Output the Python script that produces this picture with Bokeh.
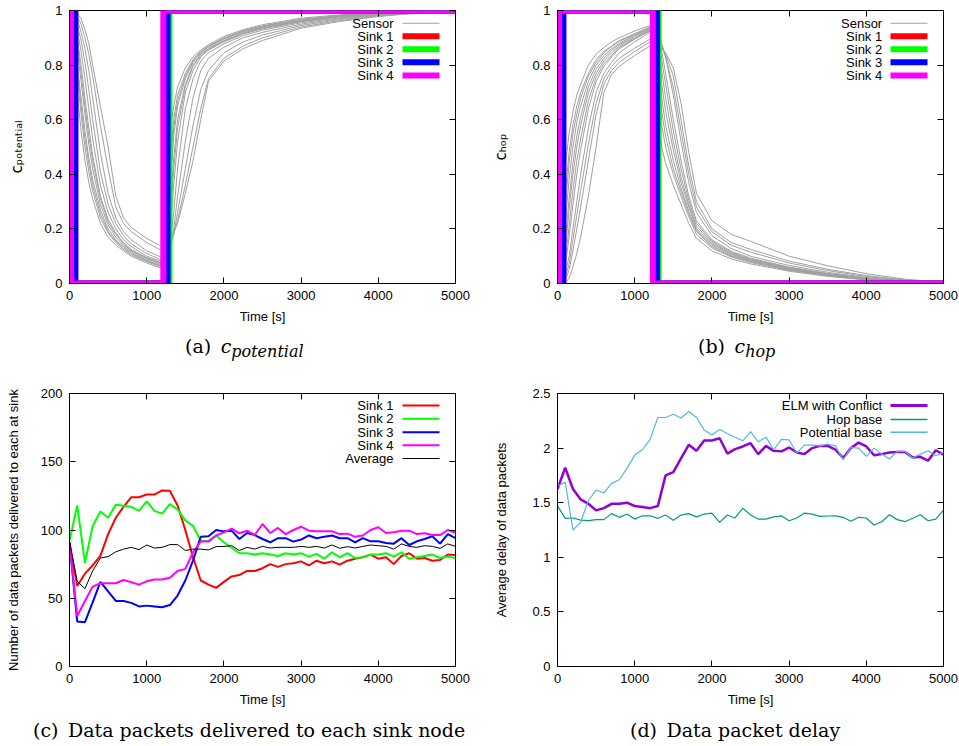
from bokeh.plotting import figure
from bokeh.models import (Range1d, FixedTicker, LinearAxis, Label, BoxAnnotation, Div,
                          CustomJSTickFormatter)
from bokeh.layouts import column, row
from bokeh.embed import file_html
from bokeh.resources import INLINE

SANS = "Liberation Sans"

# ---------------- data ----------------
x_ticks = [0, 1000, 2000, 3000, 4000, 5000]
c_ticks = [0, 0.2, 0.4, 0.6, 0.8, 1]
pkt_ticks = [0, 50, 100, 150, 200]
delay_ticks = [0, 0.5, 1, 1.5, 2, 2.5]

# sampling times of the sensor curves (s)
t_sensor = [0, 50, 100, 150, 200, 250, 300, 400, 500, 600, 700, 800, 1000, 1200,
            1250, 1300, 1350, 1400, 1500, 1600, 1700, 1800, 2000, 2250, 2500, 3000, 3500, 4000, 4500, 5000]

# (a) c_potential of individual sensors
pot_sensor_1 = [1, .86, .70, .56, .45, .37, .31, .22, .17, .14, .12, .10, .075, .055,
                .10, .55, .65, .72, .79, .83, .855, .875, .905, .93, .948, .972, .984, .992, .997, 1]
pot_sensor_2 = [1, .90, .76, .62, .50, .41, .34, .24, .185, .15, .125, .105, .08, .06,
                .08, .45, .60, .69, .77, .82, .85, .87, .90, .926, .944, .968, .982, .991, .996, 1]
pot_sensor_3 = [1, .93, .81, .68, .56, .46, .38, .27, .20, .16, .135, .115, .085, .065,
                .08, .35, .54, .65, .75, .81, .845, .865, .895, .922, .94, .965, .98, .99, .996, 1]
pot_sensor_4 = [1, .95, .86, .74, .62, .51, .42, .29, .215, .17, .14, .12, .09, .07,
                .08, .25, .46, .60, .73, .80, .84, .86, .89, .918, .937, .962, .978, .989, .995, 1]
pot_sensor_5 = [1, .97, .90, .80, .68, .57, .47, .32, .235, .185, .15, .125, .095, .075,
                .09, .18, .36, .52, .70, .78, .83, .855, .885, .914, .933, .959, .976, .988, .995, 1]
pot_sensor_6 = [1, .98, .93, .85, .75, .64, .53, .36, .26, .20, .16, .135, .10, .08,
                .09, .14, .26, .42, .64, .75, .815, .845, .878, .908, .928, .955, .973, .986, .994, 1]
pot_sensor_7 = [1, .99, .95, .89, .81, .71, .60, .41, .29, .22, .175, .145, .11, .085,
                .10, .13, .20, .32, .52, .68, .78, .825, .865, .90, .92, .95, .97, .984, .993, 1]
pot_sensor_8 = [1, 1, .97, .92, .86, .78, .68, .48, .33, .24, .19, .16, .12, .095,
                .11, .13, .18, .26, .42, .58, .71, .78, .845, .885, .91, .945, .967, .982, .992, 1]
pot_sensor_9 = [1, 1, .98, .95, .90, .84, .76, .58, .42, .28, .22, .19, .15, .12,
                .13, .14, .18, .23, .36, .50, .64, .75, .825, .87, .90, .94, .963, .98, .991, 1]
pot_sensor_10 = [1, 1, .99, .97, .93, .88, .80, .65, .50, .32, .24, .205, .165, .135,
                 .14, .15, .19, .22, .33, .45, .60, .74, .815, .86, .89, .935, .96, .978, .99, 1]
pot_sensor_11 = [1, .96, .88, .77, .65, .54, .45, .31, .225, .18, .145, .12, .092, .072,
                 .08, .22, .42, .57, .72, .795, .835, .858, .888, .916, .935, .96, .977, .988, .995, 1]
pot_sensor_12 = [1, .92, .79, .65, .53, .44, .36, .255, .19, .155, .13, .11, .083, .063,
                 .07, .40, .57, .67, .76, .815, .848, .868, .898, .924, .942, .966, .981, .99, .996, 1]

# (b) c_hop of individual sensors
hop_sensor_1 = [0, 0, .43, .55, .63, .69, .73, .80, .84, .865, .885, .90, .925, .945,
                .945, .60, .50, .44, .36, .29, .22, .165, .12, .09, .072, .045, .026, .013, .005, 0]
hop_sensor_2 = [0, 0, .33, .48, .58, .65, .70, .77, .82, .85, .87, .89, .915, .94,
                .94, .72, .58, .50, .40, .32, .245, .18, .13, .097, .077, .048, .028, .014, .006, .001]
hop_sensor_3 = [0, 0, .22, .38, .50, .59, .65, .74, .80, .835, .86, .88, .91, .935,
                .935, .82, .68, .58, .45, .35, .265, .195, .14, .103, .082, .052, .031, .016, .007, .001]
hop_sensor_4 = [0, 0, .12, .27, .40, .50, .58, .70, .77, .815, .845, .87, .90, .93,
                .93, .88, .78, .68, .52, .39, .29, .21, .15, .11, .087, .056, .034, .018, .008, .001]
hop_sensor_5 = [0, 0, .06, .17, .29, .40, .49, .64, .74, .795, .83, .86, .895, .925,
                .925, .91, .85, .77, .60, .45, .32, .23, .16, .118, .093, .06, .037, .02, .009, .002]
hop_sensor_6 = [0, 0, .03, .10, .20, .30, .40, .57, .70, .77, .81, .845, .885, .92,
                .92, .915, .88, .83, .69, .52, .37, .26, .175, .128, .10, .066, .041, .022, .01, .002]
hop_sensor_7 = [0, 0, .01, .05, .12, .20, .28, .45, .62, .73, .78, .81, .85, .885,
                .885, .885, .87, .84, .76, .60, .43, .30, .20, .15, .125, .082, .052, .029, .013, .003]
hop_sensor_8 = [0, 0, 0, .02, .06, .11, .17, .32, .50, .70, .765, .795, .835, .87,
                .87, .87, .86, .845, .79, .66, .48, .33, .23, .18, .155, .10, .065, .036, .016, .004]
hop_sensor_9 = [0, 0, .08, .21, .34, .45, .53, .67, .755, .805, .835, .865, .897, .927,
                .927, .90, .82, .73, .56, .42, .305, .22, .155, .114, .09, .058, .035, .019, .008, .001]
hop_sensor_10 = [0, 0, .28, .44, .55, .62, .68, .76, .81, .845, .868, .887, .912, .938,
                 .938, .78, .63, .54, .42, .335, .255, .19, .135, .10, .08, .05, .03, .015, .006, .001]
hop_sensor_11 = [0, 0, .02, .07, .16, .25, .34, .51, .66, .75, .795, .825, .862, .895,
                 .895, .89, .87, .83, .72, .56, .40, .28, .19, .14, .115, .075, .047, .026, .012, .003]
hop_sensor_12 = [0, 0, .15, .31, .44, .54, .61, .72, .785, .825, .853, .875, .905, .932,
                 .932, .86, .73, .63, .49, .37, .28, .20, .145, .107, .085, .054, .032, .017, .007, .001]

# sink step functions (switch times, values held after each time)
pot_sink1_t = [0, 75, 1270, 5000];  pot_sink1_v = [1, 0, 1, 1]
pot_sink2_t = [0, 0, 1295, 5000];   pot_sink2_v = [1, 0, 1, 1]
pot_sink3_t = [0, 75, 1270, 5000];  pot_sink3_v = [1, 0, 1, 1]
pot_sink4_t = [0, 20, 1215, 5000];  pot_sink4_v = [1, 0, 1, 1]

hop_sink1_t = [0, 75, 1290, 5000];  hop_sink1_v = [0, 1, 0, 0]
hop_sink2_t = [0, 0, 1310, 5000];   hop_sink2_v = [0, 1, 0, 0]
hop_sink3_t = [0, 75, 1290, 5000];  hop_sink3_v = [0, 1, 0, 0]
hop_sink4_t = [0, 20, 1235, 5000];  hop_sink4_v = [0, 1, 0, 0]

# (c) packets delivered, every 100 s
t_100 = list(range(0, 5001, 100))
pkt_sink1 = [91, 59, 68, 74, 81, 97, 109, 117, 124, 124, 126, 126, 129, 128.7, 118, 100, 80, 63, 60, 57.6,
             62, 66, 67, 70, 70, 72, 75, 73, 75, 75.6, 77, 74, 77.5, 75.6, 77, 74.6, 77.5, 79, 80, 82,
             79, 80, 75, 81, 83, 79, 79.5, 77.5, 78, 82, 81.7]
pkt_sink2 = [92, 118, 76, 103, 113.5, 109, 118.5, 117.8, 117, 114, 121, 114, 112, 119, 115, 107, 103, 92, 92, 96,
             91, 87, 83, 83, 82, 83, 82, 81, 83, 82, 83, 80.5, 82.5, 79, 83.7, 80, 83, 79.5, 80, 82,
             82, 83, 80.5, 83.7, 79, 80, 81, 82, 79.5, 80.5, 79.5]
pkt_sink3 = [91, 33, 32.5, 47, 62, 55, 48, 48, 46.6, 44, 44.6, 44, 43.4, 45, 52, 63, 77.6, 95, 95.4, 100,
             99, 99.5, 93.4, 97.8, 96.3, 93.4, 91, 94, 94, 91.5, 93, 96, 94, 95, 96, 94, 94, 91, 94, 91.7,
             91.7, 90.5, 90, 94, 89, 91.7, 93.4, 95.4, 90, 97, 94]
pkt_sink4 = [91, 37, 48, 58.5, 61, 61, 61, 63.4, 61.7, 60, 62.4, 63.7, 63.7, 65, 70, 71.5, 83.7, 91.5, 91.5, 96,
             98.3, 101, 97.6, 99.5, 96.3, 104.4, 97.8, 101.5, 97, 100, 102.4, 99.5, 99, 99, 99, 97, 97.3, 95, 96, 100,
             102, 97.8, 98.3, 99.5, 99.5, 97, 97.6, 96.3, 96.3, 100, 98]
pkt_average = [91, 62.4, 57, 70, 79.5, 80.5, 84, 86, 87.3, 85.6, 89, 86.8, 87.3, 89.3, 89.3, 85, 86, 86, 85.4, 87.8,
               88, 88.5, 85, 87.3, 86, 88, 86.8, 87.3, 87.3, 87.3, 88, 87.3, 88, 86.8, 89, 86.6, 87.8, 86.8, 88, 89,
               88.5, 88, 86, 89.8, 88, 87.3, 88.5, 88, 86.6, 89.8, 88]

# (d) average delay, every 100 s
delay_elm = [1.625, 1.82, 1.625, 1.53, 1.49, 1.43, 1.45, 1.49, 1.49, 1.50, 1.47, 1.46, 1.45, 1.47, 1.75, 1.78,
             1.905, 2.03, 1.975, 2.07, 2.07, 2.09, 1.95, 1.99, 2.015, 2.045, 1.945, 2.02, 1.975, 1.97, 2.005,
             1.96, 1.945, 2.0, 2.02, 2.02, 1.985, 1.91, 2.0, 2.05, 2.015, 1.935, 1.945, 1.96, 1.965, 1.965,
             1.915, 1.92, 1.885, 1.98, 1.94]
delay_hop = [1.47, 1.357, 1.36, 1.34, 1.335, 1.345, 1.345, 1.40, 1.366, 1.396, 1.35, 1.38, 1.38, 1.357, 1.387,
             1.34, 1.387, 1.40, 1.37, 1.396, 1.405, 1.32, 1.387, 1.36, 1.45, 1.387, 1.35, 1.35, 1.37, 1.38,
             1.335, 1.36, 1.405, 1.396, 1.375, 1.378, 1.38, 1.366, 1.33, 1.366, 1.36, 1.296, 1.326, 1.39,
             1.345, 1.326, 1.357, 1.39, 1.335, 1.35, 1.433]
delay_potential = [1.655, 1.686, 1.25, 1.32, 1.52, 1.616, 1.59, 1.677, 1.71, 1.814, 1.936, 1.985, 2.08, 2.28,
                   2.28, 2.31, 2.275, 2.335, 2.28, 2.165, 2.12, 2.17, 2.134, 2.10, 2.067, 2.15, 2.058, 2.10,
                   1.985, 2.08, 2.076, 1.954, 2.027, 2.027, 2.02, 2.037, 2.02, 1.893, 2.006, 2.0, 1.924, 2.0,
                   1.945, 1.90, 1.97, 1.97, 1.91, 1.945, 1.976, 1.93, 1.96]

SINK_COLORS = ["#ff0000", "#00ff00", "#0000ff", "#ff00ff"]
SENSOR_COLOR = "#a0a0a0"
ELM_COLOR, HOP_COLOR, POT_COLOR = "#9400d3", "#009e73", "#56b4e9"


# ---------------- helpers ----------------
def make_fig(width, height, bl, br, bt, bb, y_end, yticks, ylabel, ylabel_font=SANS, ylab_standoff=16,
             ylabel_size="13px"):
    p = figure(width=width, height=height, output_backend="svg", toolbar_location=None,
               x_range=Range1d(0, 5000), y_range=Range1d(0, y_end),
               min_border_left=bl, min_border_right=br, min_border_top=bt, min_border_bottom=bb,
               background_fill_color="white", border_fill_color="white")
    p.grid.visible = False
    p.outline_line_color = "black"
    p.outline_line_width = 1
    fmt = CustomJSTickFormatter(code="return tick.toString();")
    xt = FixedTicker(ticks=x_ticks)
    yt = FixedTicker(ticks=yticks)
    p.xaxis.ticker = xt
    p.yaxis.ticker = yt
    for ax in (p.xaxis[0], p.yaxis[0]):
        ax.formatter = fmt
        ax.major_tick_in = 6
        ax.major_tick_out = 0
        ax.minor_tick_in = 0
        ax.minor_tick_out = 0
        ax.axis_line_color = "black"
        ax.major_tick_line_color = "black"
        ax.major_label_text_font = SANS
        ax.major_label_text_font_size = "13px"
        ax.major_label_text_color = "black"
        ax.axis_label_text_font = SANS
        ax.axis_label_text_font_size = "13px"
        ax.axis_label_text_font_style = "normal"
        ax.axis_label_text_color = "black"
    p.xaxis.axis_label = "Time [s]"
    p.xaxis.major_label_standoff = 7
    p.xaxis.axis_label_standoff = 6
    p.yaxis.axis_label = ylabel
    p.yaxis.axis_label_text_font = ylabel_font
    p.yaxis.axis_label_text_font_size = ylabel_size
    p.yaxis.major_label_standoff = 7
    p.yaxis.axis_label_standoff = ylab_standoff
    blank = CustomJSTickFormatter(code="return '';")
    top = LinearAxis(ticker=xt, formatter=blank, major_label_text_font_size="0px",
                     axis_line_color=None, major_tick_in=6, major_tick_out=0,
                     minor_tick_in=0, minor_tick_out=0, major_label_standoff=0,
                     major_tick_line_color="black")
    right = LinearAxis(ticker=yt, formatter=blank, major_label_text_font_size="0px",
                       axis_line_color=None, major_tick_in=6, major_tick_out=0,
                       minor_tick_in=0, minor_tick_out=0, major_label_standoff=0,
                       major_tick_line_color="black")
    p.add_layout(top, "above")
    p.add_layout(right, "right")
    return p


def add_legend(p, frame_h, entries, text_right, sw_left, sw_right, rows_from_top):
    for (label, color, lw), r in zip(entries, rows_from_top):
        yc = frame_h - r
        p.add_layout(Label(x=text_right, y=yc, x_units="screen", y_units="screen", text=label,
                           text_align="right", text_baseline="middle", text_font=SANS,
                           text_font_size="13px", text_color="black"))
        p.add_layout(BoxAnnotation(left=sw_left, right=sw_right, bottom=yc - lw / 2, top=yc + lw / 2,
                                   left_units="screen", right_units="screen",
                                   bottom_units="screen", top_units="screen",
                                   fill_color=color, fill_alpha=1.0, line_color=None))


def caption(html, width, height, pad_left, margin_top):
    style = ("font-family:'DejaVu Serif',serif;font-size:19px;line-height:20px;color:black;"
             f"margin-top:{margin_top}px;padding-left:{pad_left}px;white-space:nowrap;")
    return Div(text=f'<div style="{style}">{html}</div>', width=width, height=height, margin=0)


# geometry
LW, RW = 480, 479
TOP_H, BOT_H = 334, 340
TOP_FH, BOT_FH = 273, 273

# ---------------- (a) c_potential ----------------
pa = make_fig(LW, TOP_H, 69, 25, 10, 51, 1, c_ticks, "c\u209a\u2092\u209c\u2091\u2099\u209c\u1d62\u2090\u2097",
              ylabel_font="DejaVu Sans", ylab_standoff=15, ylabel_size="15px")
for s in [pot_sensor_1, pot_sensor_2, pot_sensor_3, pot_sensor_4, pot_sensor_5, pot_sensor_6,
          pot_sensor_7, pot_sensor_8, pot_sensor_9, pot_sensor_10, pot_sensor_11, pot_sensor_12]:
    pa.line(t_sensor, s, line_color=SENSOR_COLOR, line_width=1)
for (tt, vv), col in zip([(pot_sink1_t, pot_sink1_v), (pot_sink2_t, pot_sink2_v),
                          (pot_sink3_t, pot_sink3_v), (pot_sink4_t, pot_sink4_v)], SINK_COLORS):
    pa.step(tt, vv, mode="after", line_color=col, line_width=6, line_join="miter")
add_legend(pa, TOP_FH,
           [("Sensor", SENSOR_COLOR, 1), ("Sink 1", SINK_COLORS[0], 6), ("Sink 2", SINK_COLORS[1], 6),
            ("Sink 3", SINK_COLORS[2], 6), ("Sink 4", SINK_COLORS[3], 6)],
           324, 333, 370, [12.7, 25.7, 38.7, 51.7, 65])

# ---------------- (b) c_hop ----------------
pb = make_fig(RW, TOP_H, 77, 16, 10, 51, 1, c_ticks, "c\u2095\u2092\u209a", ylabel_font="DejaVu Sans",
              ylab_standoff=19, ylabel_size="15px")
for s in [hop_sensor_1, hop_sensor_2, hop_sensor_3, hop_sensor_4, hop_sensor_5, hop_sensor_6,
          hop_sensor_7, hop_sensor_8, hop_sensor_9, hop_sensor_10, hop_sensor_11, hop_sensor_12]:
    pb.line(t_sensor, s, line_color=SENSOR_COLOR, line_width=1)
for (tt, vv), col in zip([(hop_sink1_t, hop_sink1_v), (hop_sink2_t, hop_sink2_v),
                          (hop_sink3_t, hop_sink3_v), (hop_sink4_t, hop_sink4_v)], SINK_COLORS):
    pb.step(tt, vv, mode="after", line_color=col, line_width=6, line_join="miter")
add_legend(pb, TOP_FH,
           [("Sensor", SENSOR_COLOR, 1), ("Sink 1", SINK_COLORS[0], 6), ("Sink 2", SINK_COLORS[1], 6),
            ("Sink 3", SINK_COLORS[2], 6), ("Sink 4", SINK_COLORS[3], 6)],
           324.7, 333, 370, [12.7, 25.7, 38.7, 51.7, 65])

# ---------------- (c) packets ----------------
pc = make_fig(LW, BOT_H, 69, 25, 23, 44, 200, pkt_ticks, "Number of data packets delivered to each at sink",
              ylab_standoff=17)
for ser, col in zip([pkt_sink1, pkt_sink2, pkt_sink3, pkt_sink4], SINK_COLORS):
    pc.line(t_100, ser, line_color=col, line_width=2)
pc.line(t_100, pkt_average, line_color="black", line_width=1)
add_legend(pc, BOT_FH,
           [("Sink 1", SINK_COLORS[0], 2), ("Sink 2", SINK_COLORS[1], 2), ("Sink 3", SINK_COLORS[2], 2),
            ("Sink 4", SINK_COLORS[3], 2), ("Average", "#000000", 1)],
           324, 333, 370, [12, 25.3, 38.7, 51.7, 65])

# ---------------- (d) delay ----------------
pd_ = make_fig(RW, BOT_H, 77, 16, 23, 44, 2.5, delay_ticks, "Average delay of data packets",
               ylab_standoff=20)
pd_.line(t_100, delay_elm, line_color=ELM_COLOR, line_width=2.5)
pd_.line(t_100, delay_hop, line_color=HOP_COLOR, line_width=1.2)
pd_.line(t_100, delay_potential, line_color=POT_COLOR, line_width=1.2)
add_legend(pd_, BOT_FH,
           [("ELM with Conflict", ELM_COLOR, 3), ("Hop base", HOP_COLOR, 1.5),
            ("Potential base", POT_COLOR, 1.5)],
           324.7, 333, 370, [12, 26, 38.7])

# ---------------- captions ----------------
sub = 'font-size:16px;font-style:italic;position:relative;top:4px;'
cap_a = caption(f'(a)&ensp;<i>c</i><span style="{sub}">potential</span>', LW, 36, 185, 2)
cap_b = caption(f'(b)&ensp;<i>c</i><span style="{sub}">hop</span>', RW, 36, 218, 2)
cap_c = caption('(c)&ensp;Data packets delivered to each sink node', LW, 34, 33, 10)
cap_d = caption('(d)&ensp;Data packet delay', RW, 34, 150, 10)

layout = column(row(pa, pb), row(cap_a, cap_b), row(pc, pd_), row(cap_c, cap_d))

open("out.html", "w").write(file_html(layout, INLINE))
